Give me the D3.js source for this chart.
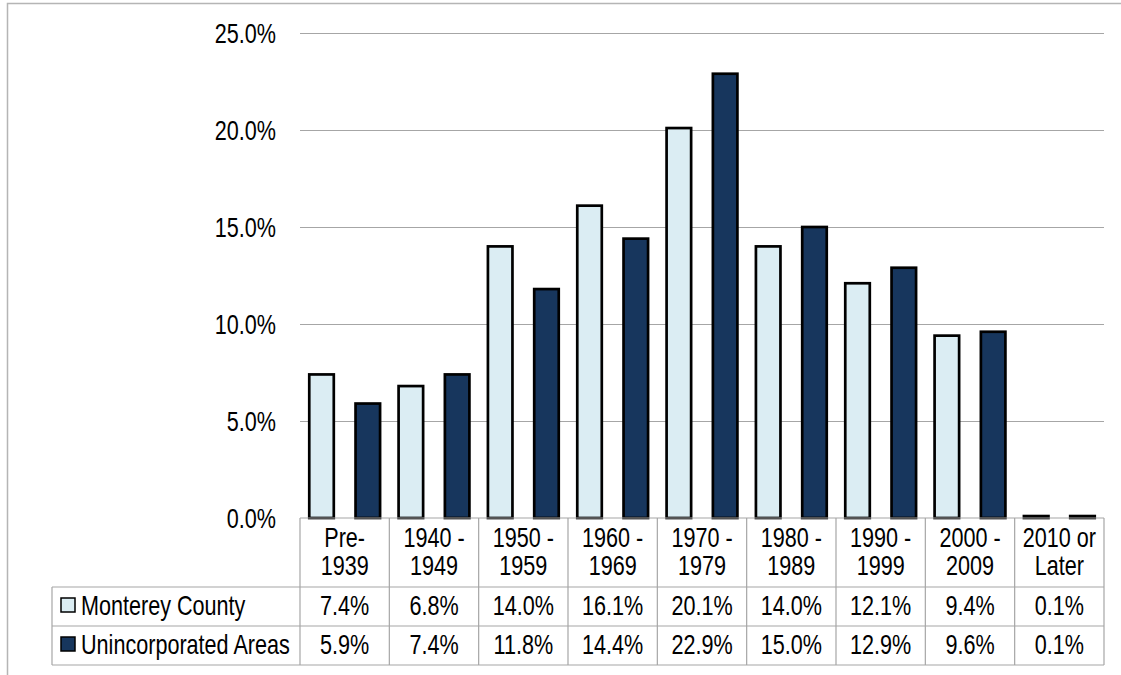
<!DOCTYPE html>
<html>
<head>
<meta charset="utf-8">
<script src="https://cdn.jsdelivr.net/npm/d3@7"></script>
<style>
  body { margin: 0; background: #fff; }
  svg { display: block; font-family: "Liberation Sans", Arial, sans-serif; }
</style>
</head>
<body>
<div id="chart"></div>
<script>
// data
var categories = [["Pre-", "1939"], ["1940 -", "1949"], ["1950 -", "1959"], ["1960 -", "1969"],
  ["1970 -", "1979"], ["1980 -", "1989"], ["1990 -", "1999"], ["2000 -", "2009"], ["2010 or", "Later"]];
var seriesNames = ["Monterey County", "Unincorporated Areas"];
var montereyCounty = [7.4, 6.8, 14.0, 16.1, 20.1, 14.0, 12.1, 9.4, 0.1];
var unincorporatedAreas = [5.9, 7.4, 11.8, 14.4, 22.9, 15.0, 12.9, 9.6, 0.1];
var yTicks = [0, 5, 10, 15, 20, 25];

var colors = ["#dbedf3", "#17365d"];
var width = 1121, height = 675;
var plotLeft = 300, plotRight = 1104, plotTop = 33, plotBottom = 518;
var rowH = [69, 39, 39];
var fs = 27, squeeze = 0.8; // narrow font look

var svg = d3.select('#chart').append('svg')
  .attr('width', width)
  .attr('height', height);

// text helper: condensed glyphs via horizontal scale
function label(g, tx, ty, str, anchor) {
  return g.append('text')
    .attr('transform', 'translate(' + tx + ',' + ty + ') scale(' + squeeze + ',1)')
    .attr('text-anchor', anchor || 'start')
    .attr('font-size', fs)
    .attr('fill', '#000')
    .text(str);
}

// outer chart frame (partly cropped)
svg.append('path')
  .attr('d', 'M7.5,' + height + 'V3.5H' + width)
  .attr('fill', 'none')
  .attr('stroke', '#b5b5b5')
  .attr('stroke-width', 1.5);

var x = d3.scaleBand().domain(d3.range(categories.length)).range([plotLeft, plotRight]);
var xs = d3.scaleBand().domain([0, 1]).range([0, x.bandwidth()]).paddingInner(0.47).paddingOuter(0.2);
var y = d3.scaleLinear().domain([0, 25]).range([plotBottom, plotTop]);

// gridlines + y labels
svg.append('g').selectAll('line').data(yTicks.slice(1)).enter().append('line')
  .attr('x1', plotLeft).attr('x2', plotRight)
  .attr('y1', function (d) { return Math.round(y(d)) + 0.5; })
  .attr('y2', function (d) { return Math.round(y(d)) + 0.5; })
  .attr('stroke', '#a6a6a6').attr('stroke-width', 1);

var yAxisG = svg.append('g');
yTicks.forEach(function (d) {
  label(yAxisG, 276, y(d) + 9.5, d.toFixed(1) + '%', 'end');
});

// bars
var series = [montereyCounty, unincorporatedAreas];
series.forEach(function (vals, si) {
  svg.append('g').selectAll('rect').data(vals).enter().append('rect')
    .attr('x', function (d, i) { return x(i) + xs(si); })
    .attr('width', xs.bandwidth())
    .attr('y', function (d) { return y(d); })
    .attr('height', function (d) { return plotBottom - y(d); })
    .attr('fill', colors[si])
    .attr('stroke', '#000')
    .attr('stroke-width', 2.7);
});

// data table
var t = svg.append('g').attr('stroke', '#a6a6a6').attr('stroke-width', 1.2);
var r1 = plotBottom + rowH[0], r2 = r1 + rowH[1], r3 = r2 + rowH[2];
t.append('line').attr('x1', plotLeft).attr('x2', plotRight).attr('y1', plotBottom).attr('y2', plotBottom);
[r1, r2, r3].forEach(function (yy) {
  t.append('line').attr('x1', 52).attr('x2', plotRight).attr('y1', yy).attr('y2', yy);
});
t.append('line').attr('x1', 52).attr('x2', 52).attr('y1', r1).attr('y2', r3);
d3.range(categories.length + 1).forEach(function (i) {
  var xx = i < categories.length ? x(i) : plotRight;
  t.append('line').attr('x1', xx).attr('x2', xx).attr('y1', plotBottom).attr('y2', r3);
});

// header labels
var headG = svg.append('g');
categories.forEach(function (c, i) {
  var cx = x(i) + x.bandwidth() / 2;
  label(headG, cx, 547, c[0], 'middle');
  label(headG, cx, 575, c[1], 'middle');
});

// value rows + legend keys
var rowBase = [615, 654];
series.forEach(function (vals, si) {
  var g = svg.append('g');
  g.append('rect')
    .attr('x', 61).attr('y', rowBase[si] - 17)
    .attr('width', 14).attr('height', 14)
    .attr('fill', colors[si]).attr('stroke', '#000').attr('stroke-width', 1.5);
  label(g, 81, rowBase[si], seriesNames[si]);
  vals.forEach(function (d, i) {
    label(g, x(i) + x.bandwidth() / 2, rowBase[si], d.toFixed(1) + '%', 'middle');
  });
});
</script>
</body>
</html>
